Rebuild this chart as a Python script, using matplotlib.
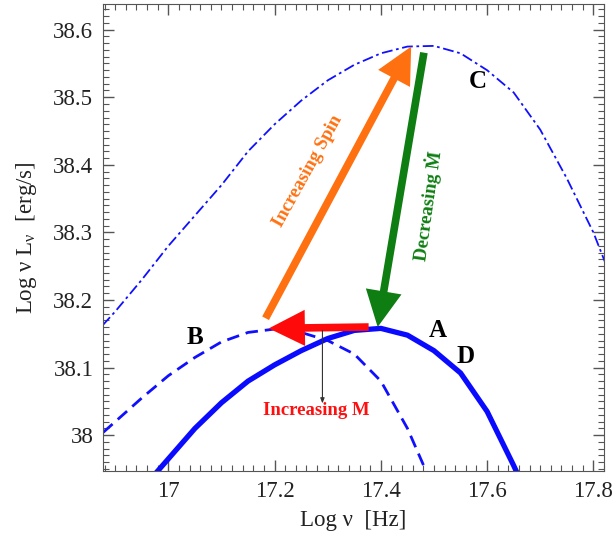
import numpy as np
import matplotlib.pyplot as plt
from matplotlib.ticker import MultipleLocator

plt.rcParams['font.family'] = ['Liberation Serif', 'DejaVu Serif']
plt.rcParams['mathtext.fontset'] = 'stix'

# curve A / D (solid)
x_a = [16.95, 17.0, 17.05, 17.1, 17.15, 17.2, 17.25, 17.3, 17.35, 17.4,
       17.45, 17.5, 17.55, 17.6, 17.65, 17.7]
y_a = [37.92, 37.965, 38.01, 38.048, 38.08, 38.104, 38.125, 38.143, 38.155, 38.158,
       38.148, 38.125, 38.092, 38.035, 37.955, 37.87]

# curve B (dashed)
x_b = [16.85, 16.9, 16.95, 17.0, 17.05, 17.1, 17.15, 17.2, 17.25, 17.3,
       17.35, 17.4, 17.45, 17.5]
y_b = [37.985, 38.02, 38.055, 38.088, 38.115, 38.138, 38.152, 38.157, 38.152, 38.14,
       38.12, 38.08, 38.01, 37.92]

# curve C (dash-dot)
x_c = [16.85, 16.9, 16.95, 17.0, 17.05, 17.1, 17.15, 17.2, 17.25, 17.3, 17.35,
       17.4, 17.45, 17.5, 17.55, 17.6, 17.65, 17.7, 17.75, 17.8, 17.85]
y_c = [38.14, 38.183, 38.23, 38.28, 38.325, 38.37, 38.42, 38.46, 38.495, 38.525, 38.548,
       38.565, 38.575, 38.576, 38.565, 38.54, 38.507, 38.452, 38.38, 38.3, 38.2]

# arrows: (tail, tip)
spin_tail, spin_tip = (17.183, 38.173), (17.457, 38.575)
mdot_tail, mdot_tip = (17.481, 38.566), (17.394, 38.160)
mass_tail, mass_tip = (17.377, 38.160), (17.189, 38.158)
small_tail, small_tip = (17.29, 38.155), (17.29, 38.047)

fig = plt.figure(figsize=(6.14, 5.39), dpi=100)
ax = fig.add_axes([0.1678, 0.1262, 0.8159, 0.8664])

ax.plot(x_c, y_c, color='#1010ff', lw=1.3, dashes=(6, 2, 1.5, 2))
ax.plot(x_b, y_b, color='#1010ff', lw=2.0, dashes=(4.5, 2.5))
ax.plot(x_a, y_a, color='#0a0aff', lw=3.8, solid_capstyle='butt')

style = 'simple,tail_width=1.1,head_width=5.2,head_length=5.2'
ax.annotate('', xy=spin_tip, xytext=spin_tail,
            arrowprops=dict(arrowstyle=style, color='#ff7010', mutation_scale=5,
                            shrinkA=0, shrinkB=0, lw=0))
ax.annotate('', xy=mdot_tip, xytext=mdot_tail,
            arrowprops=dict(arrowstyle=style, color='#0e7d12', mutation_scale=5,
                            shrinkA=0, shrinkB=0, lw=0))
ax.annotate('', xy=mass_tip, xytext=mass_tail,
            arrowprops=dict(arrowstyle=style, color='#ff0a0a', mutation_scale=5,
                            shrinkA=0, shrinkB=0, lw=0))
ax.annotate('', xy=small_tip, xytext=small_tail,
            arrowprops=dict(arrowstyle='-|>,head_width=0.12,head_length=0.3',
                            color='#333333', lw=0.8, shrinkA=0, shrinkB=0))

ax.text(17.05, 38.145, 'B', fontsize=18, fontweight='bold', ha='center', va='center')
ax.text(17.508, 38.155, 'A', fontsize=18, fontweight='bold', ha='center', va='center')
ax.text(17.56, 38.116, 'D', fontsize=18, fontweight='bold', ha='center', va='center')
ax.text(17.583, 38.523, 'C', fontsize=18, fontweight='bold', ha='center', va='center')
ax.text(17.279, 38.036, 'Increasing M', fontsize=13.5, fontweight='bold', color='#ff1010',
        ha='center', va='center')
ax.text(17.262, 38.39, 'Increasing Spin', fontsize=13.5, fontweight='bold', color='#ff7010',
        ha='center', va='center', rotation=61)
ax.text(17.489, 38.34, 'Decreasing Ṁ', fontsize=13.5, fontweight='bold', color='#0e7d12',
        ha='center', va='center', rotation=82)

ax.set_xlim(16.877, 17.82)
ax.set_ylim(37.947, 38.638)
ax.xaxis.set_major_locator(MultipleLocator(0.2))
ax.xaxis.set_minor_locator(MultipleLocator(0.02))
ax.yaxis.set_major_locator(MultipleLocator(0.1))
ax.yaxis.set_minor_locator(MultipleLocator(0.01))
ax.tick_params(which='both', direction='in', top=True, right=True, colors='#555555',
               labelcolor='#222222', labelsize=16.5)
ax.tick_params(which='major', length=8, width=1, pad=7)
ax.tick_params(which='minor', length=4, width=0.8)
ax.xaxis.set_major_formatter(plt.FuncFormatter(lambda v, p: ('%g' % round(v, 2))))
ax.yaxis.set_major_formatter(plt.FuncFormatter(lambda v, p: ('%g' % round(v, 2))))
for s in ax.spines.values():
    s.set_color('#555555')

ax.set_xlabel('Log ν  [Hz]', fontsize=16.5, color='#222222', labelpad=6)
ax.set_ylabel('Log ν L$_\\mathregular{ν}$  [erg/s]', fontsize=16.5, color='#222222', labelpad=10)

fig.savefig('out.png', dpi=100)
